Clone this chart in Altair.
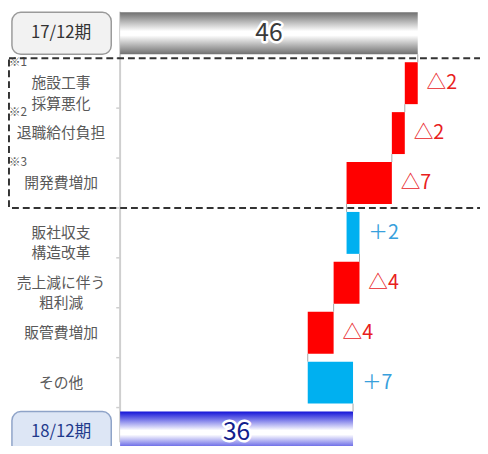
import altair as alt
import pandas as pd

# ---------------- data ----------------
categories = ["17/12期", "施設工事\n採算悪化", "退職給付負担", "開発費増加",
              "販社収支\n構造改革", "売上減に伴う\n粗利減", "販管費増加", "その他", "18/12期"]
notes = ["", "※1", "※2", "※3", "", "", "", "", ""]
start_value = 46
end_value = 36
changes = [-2, -2, -7, 2, -4, -4, 7]
change_labels = ["△2", "△2", "△7", "＋2", "△4", "△4", "＋7"]
total_labels = ["46", "36"]

# ---------------- layout ----------------
FONT = "Noto Sans CJK JP"
W, H = 480, 438
PX_PER_UNIT = 6.58
AXIS_PX = 114          # value 0 position inside the plot
ROW_PX = 50.75
ROW0_PX = 22
HALF = 0.42            # half bar thickness (rows)
LABEL_X = (54 - AXIS_PX) / PX_PER_UNIT
BOX_X0 = (4 - AXIS_PX) / PX_PER_UNIT
BOX_X1 = (105 - AXIS_PX) / PX_PER_UNIT

x_dom = [-AXIS_PX / PX_PER_UNIT, (W - AXIS_PX) / PX_PER_UNIT]
y_dom = [-ROW0_PX / ROW_PX, (H - ROW0_PX) / ROW_PX]
xs = alt.Scale(domain=x_dom, nice=False, zero=False)
ys = alt.Scale(domain=y_dom, nice=False, zero=False, reverse=True)

# ---------------- derived tables ----------------
n = len(categories)
totals = pd.DataFrame({
    "row": [0, n - 1],
    "lo": [0, 0],
    "hi": [start_value, end_value],
    "label": total_labels,
})
totals["y1"] = totals["row"] - HALF
totals["y2"] = totals["row"] + HALF
totals["mid"] = totals["hi"] / 2

steps = []
conn = [{"x": start_value, "y1": 0 + HALF, "y2": 1 - HALF}]
run = start_value
for i, c in enumerate(changes):
    new = run + c
    steps.append({"row": i + 1, "lo": min(run, new), "hi": max(run, new),
                  "sign": "up" if c > 0 else "down", "label": change_labels[i]})
    conn.append({"x": new, "y1": i + 1 + HALF, "y2": i + 2 - HALF})
    run = new
steps = pd.DataFrame(steps)
steps["y1"] = steps["row"] - HALF
steps["y2"] = steps["row"] + HALF
conn = pd.DataFrame(conn)

cats = pd.DataFrame({"row": list(range(n)), "label": categories, "note": notes})
plain = cats[(cats.row > 0) & (cats.row < n - 1)]
boxes = cats[(cats.row == 0) | (cats.row == n - 1)].copy()
boxes["y1"] = boxes["row"] - HALF
boxes["y2"] = boxes["row"] + HALF
boxes["kind"] = ["start", "end"]
noted = cats[cats.note != ""]
bracket = pd.DataFrame({"y1": [noted.row.min() - 0.5], "y2": [noted.row.max() + 0.5]})
ticks = pd.DataFrame({"b": [i + 0.5 for i in range(n - 1)]})

# ---------------- layers ----------------
X = lambda f: alt.X(f, type="quantitative", scale=xs, axis=None)
Y = lambda f: alt.Y(f, type="quantitative", scale=ys, axis=None)

axis_line = alt.Chart(pd.DataFrame({"a": [0]})).mark_rule(
    color="#cfcfcf", strokeWidth=2).encode(x=X("a"))

tick_marks = alt.Chart(ticks).mark_rule(color="#cfcfcf", strokeWidth=1.5).encode(
    x=alt.XDatum(-0.6, type="quantitative", scale=xs, axis=None),
    x2=alt.X2Datum(0),
    y=Y("b"))

box_layer = alt.Chart(boxes).mark_rect(cornerRadius=9, strokeWidth=1.5).encode(
    x=alt.XDatum(BOX_X0, type="quantitative", scale=xs, axis=None),
    x2=alt.X2Datum(BOX_X1),
    y=Y("y1"), y2="y2",
    fill=alt.Fill("kind:N", scale=alt.Scale(domain=["start", "end"],
                                             range=["#f2f2f2", "#dde6f5"]), legend=None),
    stroke=alt.Stroke("kind:N", scale=alt.Scale(domain=["start", "end"],
                                                 range=["#9a9a9a", "#8ea3c8"]), legend=None))

box_text = alt.Chart(boxes).mark_text(font=FONT, fontSize=17, baseline="middle").encode(
    x=alt.XDatum(LABEL_X, type="quantitative", scale=xs, axis=None),
    y=Y("row"), text="label:N",
    color=alt.Color("kind:N", scale=alt.Scale(domain=["start", "end"],
                                               range=["#333333", "#1f3a8c"]), legend=None))

cat_text = alt.Chart(plain).mark_text(font=FONT, fontSize=15, lineBreak="\n", lineHeight=21,
                                      baseline="middle", color="#595959").encode(
    x=alt.XDatum(LABEL_X, type="quantitative", scale=xs, axis=None),
    y=Y("row"), text="label:N")

note_text = alt.Chart(noted).mark_text(font=FONT, fontSize=12, align="left", dy=-21,
                                       baseline="middle", color="#595959").encode(
    x=alt.XDatum(x_dom[0] + 0.1, type="quantitative", scale=xs, axis=None),
    y=Y("row"), text="note:N")

def grad(edge, mid):
    return alt.Gradient(gradient="linear", x1=0, x2=0, y1=0, y2=1, stops=[
        alt.GradientStop(offset=0, color=edge),
        alt.GradientStop(offset=0.45, color=mid),
        alt.GradientStop(offset=0.55, color=mid),
        alt.GradientStop(offset=1, color=edge)])

start_bar = alt.Chart(totals[totals.row == 0]).mark_rect(
    fill=grad("#707070", "#ffffff")).encode(x=X("lo"), x2="hi", y=Y("y1"), y2="y2")
end_bar = alt.Chart(totals[totals.row == n - 1]).mark_rect(
    fill=grad("#1414d8", "#ffffff")).encode(x=X("lo"), x2="hi", y=Y("y1"), y2="y2")

step_bars = alt.Chart(steps).mark_rect().encode(
    x=X("lo"), x2="hi", y=Y("y1"), y2="y2",
    color=alt.Color("sign:N", scale=alt.Scale(domain=["down", "up"],
                                               range=["#ff0000", "#00b0f0"]), legend=None))

connectors = alt.Chart(conn).mark_rule(color="#a6a6a6", strokeWidth=1).encode(
    x=X("x"), y=Y("y1"), y2="y2")

total_halo = alt.Chart(totals).mark_text(font=FONT, fontSize=25, baseline="middle",
                                         stroke="white", strokeWidth=5, strokeJoin="round",
                                         fill="white").encode(
    x=X("mid"), y=Y("row"), text="label:N")
total_text = alt.Chart(totals).mark_text(font=FONT, fontSize=25, baseline="middle").encode(
    x=X("mid"), y=Y("row"), text="label:N",
    color=alt.Color("row:N", scale=alt.Scale(domain=[0, n - 1],
                                              range=["#3a3a3a", "#12208c"]), legend=None))

step_text = alt.Chart(steps).mark_text(font=FONT, fontSize=20, align="left", dx=9,
                                       baseline="middle").encode(
    x=X("hi"), y=Y("row"), text="label:N",
    color=alt.Color("sign:N", scale=alt.Scale(domain=["down", "up"],
                                               range=["#e8201c", "#38a0dc"]), legend=None))

bracket_rect = alt.Chart(bracket).mark_rect(
    fillOpacity=0, fill="white", stroke="#333333", strokeWidth=2, strokeDash=[7, 4]).encode(
    x=alt.XDatum(x_dom[0] + 0.15, type="quantitative", scale=xs, axis=None),
    x2=alt.X2Datum(x_dom[1] + 5),
    y=Y("y1"), y2="y2")

chart = alt.layer(
    axis_line, tick_marks, box_layer, box_text, cat_text, note_text,
    start_bar, end_bar, step_bars, connectors, total_halo, total_text, step_text,
    bracket_rect,
).resolve_scale(color="independent", fill="independent", stroke="independent").properties(
    width=W, height=H, padding=0, autosize=alt.AutoSizeParams(type="none")
).configure_view(stroke=None)

chart.save("out.html", embed_options={"renderer": "svg", "actions": False})
